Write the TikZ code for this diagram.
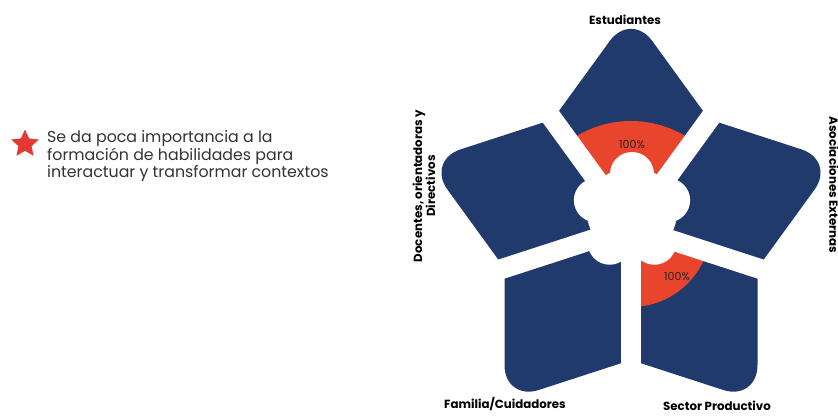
\documentclass[tikz,border=0pt]{standalone}
\usepackage{fontspec}
\setmainfont{Poppins}
\usetikzlibrary{shapes.geometric}
\definecolor{navy}{HTML}{1F3A6B}
\definecolor{hot}{HTML}{E8452C}
\definecolor{starred}{HTML}{E23A33}
\tikzset{
  petal/.style={fill=navy},
  share/.style={fill=hot},
  gap/.style={white, line width=20pt},
  who/.style={font=\fontsize{11.8}{13}\selectfont\bfseries, inner sep=0pt},
  pct/.style={font=\fontsize{11}{12}\selectfont, text=black!85, inner sep=0pt}
}
\begin{document}
\begin{tikzpicture}[x=1pt, y=1pt]
	  \useasboundingbox (0,0) rectangle (838,416);
	  \fill[white] (0,0) rectangle (838,416);
	  \coordinate (C) at (631,189);
	  \coordinate (B) at (632,204);
	  % petals
	  \foreach \a in {90,18,-54,-126,162}
	    \fill[petal] (C) -- ([shift={(\a-36:133)}]C) [rounded corners=36pt] -- ([shift={(\a:215.2)}]C) [sharp corners] -- ([shift={(\a+36:133)}]C) -- cycle;
	  % red shares
	  \fill[share] (C) -- ([shift={(54:106)}]C) arc[start angle=54, end angle=126, radius=106] -- cycle;
	  \fill[share] (C) -- ([shift={(-90:80)}]C) arc[start angle=-90, end angle=-18, radius=80] -- cycle;
	  % gaps
	  \foreach \g in {54,126,198,270,342}
	    \draw[gap] (C) -- ([shift={(\g:240)}]C);
	  % centre
	  \fill[white] (B) circle[radius=45];
	  \foreach \a in {90,18,-54,-126,162}
	    \fill[white] ([shift={(\a:38)}]B) circle[radius=22];
	  \node[pct] (top) at (632,271) {100\%};
	  \node[pct] (low) at (677,139) {100\%};
	  % labels
	  \node[who] (est) at (625,396) {Estudiantes};
	  \node[who] (fam) at (505,12) {Familia/Cuidadores};
	  \node[who] (sec) at (717,10) {Sector Productivo};
	  \node[who, rotate=90, align=center] (doc) at (424,230) {Docentes, orientadoras y\\Directivos};
	  \node[who, rotate=-90] (aso) at (834,231) {Asociaciones Externas};
	  % legend
	  \node[star, star points=5, star point ratio=2.1, fill=starred, minimum size=29pt, inner sep=0pt] (mark) at (25,272) {};
	  \node[anchor=west, align=left, text=black!80, inner sep=0pt, font=\fontsize{15.8}{14.5}\selectfont] (note) at (47,260) {Se da poca importancia a la\\formación de habilidades para\\interactuar y transformar contextos};
	\end{tikzpicture}
\end{document}
